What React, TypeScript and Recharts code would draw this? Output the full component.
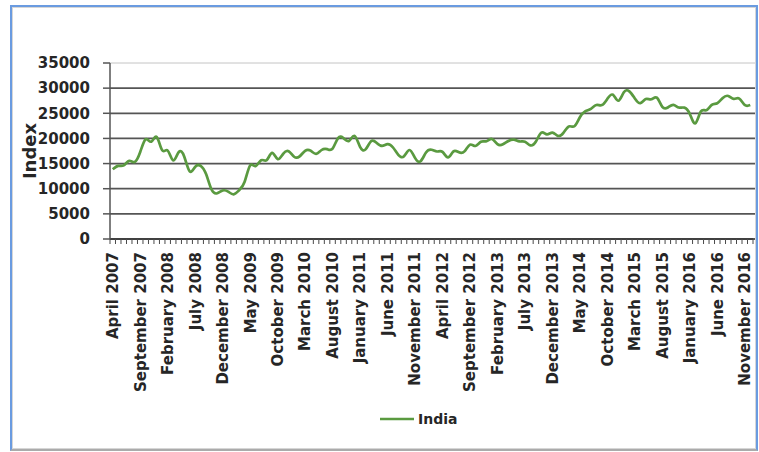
import React from 'react';
import { LineChart, Line, XAxis, YAxis, CartesianGrid, Legend } from 'recharts';

const MONTH_NAMES = [
  'January', 'February', 'March', 'April', 'May', 'June',
  'July', 'August', 'September', 'October', 'November', 'December',
];

// Monthly index values (April 2007 – December 2016)
const values2007 = [13870, 14540, 14650, 15550, 15320, 17290, 19840, 19360, 20290]; // Apr–Dec
const values2008 = [17650, 17580, 15640, 17290, 16420, 13460, 14360, 14560, 12860, 9790, 9090, 9650];
const values2009 = [9420, 8890, 9710, 11400, 14620, 14490, 15670, 15670, 17130, 15900, 16930, 17460];
const values2010 = [16360, 16430, 17530, 17560, 16940, 17700, 17870, 17970, 20070, 20030, 19520, 20510];
const values2011 = [18330, 17820, 19440, 19140, 18500, 18850, 18200, 16680, 16450, 17700, 16120, 15450];
const values2012 = [17190, 17750, 17400, 17320, 16220, 17430, 17240, 17430, 18760, 18500, 19340, 19430];
const values2013 = [19890, 18860, 18840, 19500, 19760, 19400, 19350, 18620, 19380, 21160, 20790, 21170];
const values2014 = [20510, 21120, 22390, 22420, 24220, 25410, 25890, 26640, 26630, 27870, 28690, 27500];
const values2015 = [29180, 29360, 27960, 27010, 27830, 27780, 28110, 26280, 26150, 26660, 26150, 26120];
const values2016 = [24870, 23000, 25340, 25610, 26670, 27000, 28050, 28450, 27870, 27930, 26650, 26630];

const yearSeries: [number, number, number[]][] = [
  [2007, 3, values2007],
  [2008, 0, values2008],
  [2009, 0, values2009],
  [2010, 0, values2010],
  [2011, 0, values2011],
  [2012, 0, values2012],
  [2013, 0, values2013],
  [2014, 0, values2014],
  [2015, 0, values2015],
  [2016, 0, values2016],
];

const yTicks = [0, 5000, 10000, 15000, 20000, 25000, 30000, 35000];
const LABEL_EVERY = 5;

const data: { month: string; India: number }[] = [];
yearSeries.forEach(([year, startMonth, vals]) => {
  vals.forEach((v, k) => {
    data.push({ month: `${MONTH_NAMES[startMonth + k]} ${year}`, India: v });
  });
});

const FONT = '"DejaVu Sans", sans-serif';
const TEXT = '#262626';

const MonthTick = (props: any) => {
  const { x, y, payload } = props;
  const off = payload && typeof payload.offset === 'number' ? payload.offset : 2.75;
  const idx = payload.index;
  const last = idx === data.length - 1;
  return (
    <g>
      <line x1={x - off} x2={x - off} y1={y - 13} y2={y - 8} stroke="#4a4a4a" strokeWidth={1} />
      {last && <line x1={x + off} x2={x + off} y1={y - 13} y2={y - 8} stroke="#4a4a4a" strokeWidth={1} />}
      {idx % LABEL_EVERY === 0 && (
        <text
          x={x}
          y={y}
          dy="0.36em"
          textAnchor="end"
          transform={`rotate(-90 ${x} ${y})`}
          fontFamily={FONT}
          fontWeight="bold"
          fontSize={15}
          fill={TEXT}
        >
          {payload.value}
        </text>
      )}
    </g>
  );
};

const GridLine = (props: any) => {
  const { x1, x2, y1, y2, index } = props;
  const top = index === yTicks.length - 1;
  return (
    <line
      x1={x1}
      x2={x2 + 2}
      y1={y1}
      y2={y2}
      stroke={top ? '#c4c4c4' : '#555555'}
      strokeWidth={top ? 1 : 1.8}
    />
  );
};

const LegendContent = (props: any) => {
  const payload = props.payload || [];
  return (
    <div style={{ display: 'flex', alignItems: 'center' }}>
      {payload.map((entry: any) => (
        <div key={entry.value} style={{ display: 'flex', alignItems: 'center' }}>
          <svg width={34} height={6} style={{ display: 'block' }}>
            <line x1={0} x2={34} y1={3} y2={3} stroke={entry.color} strokeWidth={2.5} />
          </svg>
          <span
            style={{
              marginLeft: 4,
              fontFamily: FONT,
              fontWeight: 'bold',
              fontSize: 14,
              color: TEXT,
              lineHeight: '16px',
            }}
          >
            {entry.value}
          </span>
        </div>
      ))}
    </div>
  );
};

export default function App() {
  return (
    <div style={{ position: 'absolute', left: 0, top: 0, width: 759, height: 452, background: '#ffffff' }}>
      <div
        style={{
          position: 'absolute',
          left: 10,
          top: 5,
          width: 744,
          height: 442,
          borderTop: '2px solid #6a9be0',
          borderLeft: '2px solid #6a9be0',
          borderRight: '2px solid #6a9be0',
          borderBottom: '2px solid #ababab',
        }}
      >
        <div style={{ position: 'absolute', inset: 0, border: '1px solid #d6d6d6' }} />
      </div>
      <div style={{ position: 'absolute', left: 0, top: 0 }}>
        <LineChart
          width={759}
          height={452}
          data={data}
          margin={{ top: 63, right: 6, bottom: 33, left: 0 }}
        >
          <CartesianGrid vertical={false} horizontal={(p: any) => <GridLine key={p.key} {...p} />} />
          <XAxis
            dataKey="month"
            scale="band"
            interval={0}
            height={180}
            tickSize={6}
            tickMargin={7}
            tickLine={false}
            axisLine={{ stroke: '#404040', strokeWidth: 2 }}
            tick={<MonthTick />}
          />
          <YAxis
            domain={[0, 35000]}
            ticks={yTicks}
            width={110}
            tickSize={7}
            tickMargin={13}
            axisLine={{ stroke: '#555555', strokeWidth: 1.5 }}
            tickLine={{ stroke: '#555555', strokeWidth: 1.5 }}
            tick={{ fontFamily: FONT, fontWeight: 'bold', fontSize: 15, fill: TEXT }}
            label={{
              content: () => (
                <text
                  x={29}
                  y={151}
                  transform="rotate(-90 29 151)"
                  textAnchor="middle"
                  dominantBaseline="central"
                  fontFamily={FONT}
                  fontWeight="bold"
                  fontSize={18}
                  fill={TEXT}
                >
                  Index
                </text>
              ),
            }}
          />
          <Legend
            layout="horizontal"
            verticalAlign="middle"
            align="center"
            content={<LegendContent />}
            wrapperStyle={{ left: 380, top: 411, width: 'auto', height: 'auto' }}
          />
          <Line
            type="natural"
            dataKey="India"
            stroke="#5a9a40"
            strokeWidth={2.7}
            dot={false}
            activeDot={false}
            isAnimationActive={false}
          />
        </LineChart>
      </div>
    </div>
  );
}
